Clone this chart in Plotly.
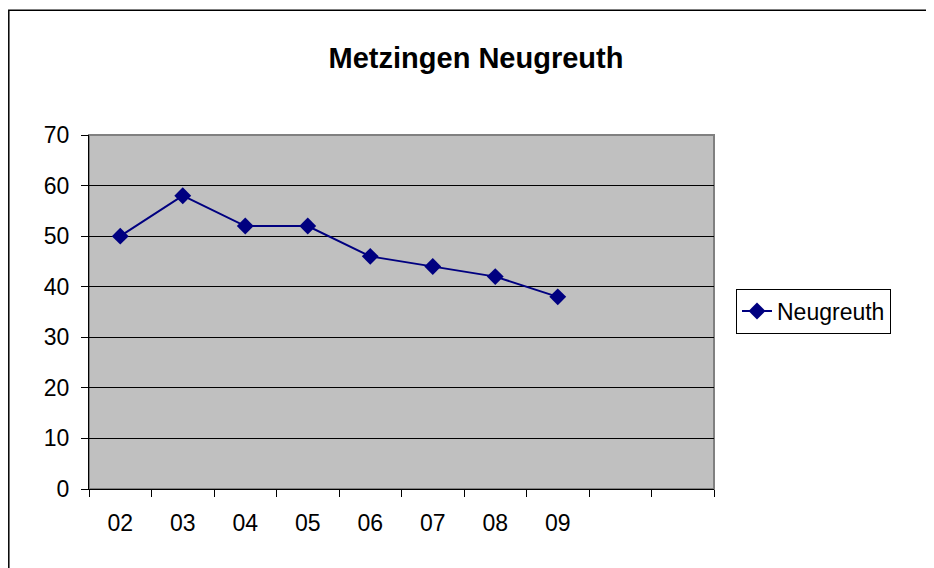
import plotly.graph_objects as go

categories = ["02", "03", "04", "05", "06", "07", "08", "09", " ", "  "]
tick_labels = ["02", "03", "04", "05", "06", "07", "08", "09", "", ""]
values = [50, 58, 52, 52, 46, 44, 42, 38]
series_name = "Neugreuth"
title_text = "Metzingen Neugreuth"

fig = go.Figure()
fig.add_trace(go.Scatter(
    x=categories[:len(values)], y=values, name=series_name,
    mode="lines+markers",
    line=dict(color="#000080", width=2),
    marker=dict(symbol="diamond", size=13, color="#000080"),
))

font = "Arial, Liberation Sans, sans-serif"
L, T, W, H = 81, 127, 625, 354
fig.update_layout(
    width=934, height=568,
    margin=dict(l=L, r=934 - L - W, t=T, b=568 - T - H),
    paper_bgcolor="white",
    plot_bgcolor="#C0C0C0",
    font=dict(family=font, size=23, color="black"),
    title=dict(text="<b>" + title_text + "</b>", x=(468 - L) / W, xanchor="center",
               xref="paper",
               y=1 - 50 / 568, yanchor="middle", font=dict(size=29, family=font)),
    showlegend=True,
    legend=dict(x=(736 - 8 - L) / W, y=(481 - 303) / H, xanchor="left", yanchor="middle",
                bordercolor="black", borderwidth=1, bgcolor="white",
                font=dict(size=23)),
    xaxis=dict(type="category", categoryorder="array", categoryarray=categories,
               tickvals=categories, ticktext=tick_labels,
               range=[-0.5, len(categories) - 0.5],
               tickson="boundaries", ticks="outside", ticklen=7, tickcolor="black",
               showline=True, linecolor="black", linewidth=1, showgrid=False,
               zeroline=False, ticklabelstandoff=13, tickfont=dict(size=23)),
    yaxis=dict(range=[0, 70], dtick=10, ticks="outside", ticklen=7, tickcolor="black",
               showline=True, linecolor="black", linewidth=1,
               showgrid=True, gridcolor="black", gridwidth=1, zeroline=False,
               ticklabelstandoff=7, tickfont=dict(size=23)),
    shapes=[
        dict(type="rect", xref="paper", yref="paper", x0=0, x1=1, y0=0, y1=1,
             line=dict(color="#808080", width=2), layer="below"),
        dict(type="rect", xref="paper", yref="paper",
             x0=(0.8 - L) / W, x1=1.6, y0=-0.5, y1=1 + (T - 2.3) / H,
             line=dict(color="black", width=1.5), layer="above"),
    ],
)

fig.write_html("out.html")
